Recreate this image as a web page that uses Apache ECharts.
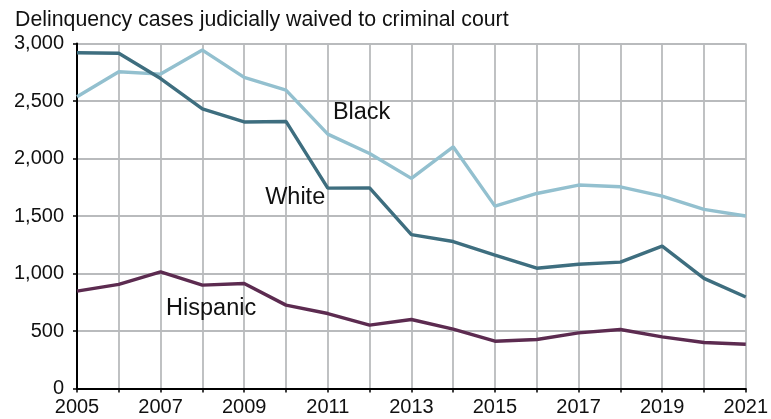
<!DOCTYPE html>
<html>
<head>
<meta charset="utf-8">
<script src="https://cdn.jsdelivr.net/npm/echarts@6/dist/echarts.min.js"></script>
<style>
html,body{margin:0;padding:0;background:#fff;}
#c{width:771px;height:419px;}
</style>
</head>
<body>
<div id="c"></div>
<script>
const years = [2005,2006,2007,2008,2009,2010,2011,2012,2013,2014,2015,2016,2017,2018,2019,2020,2021];
const white = [2920,2915,2695,2432,2318,2322,1742,1745,1338,1278,1160,1046,1080,1099,1238,958,796];
const black = [2537,2754,2734,2943,2705,2595,2212,2044,1827,2102,1586,1696,1769,1754,1673,1557,1500];
const hispanic = [847,905,1015,899,913,725,652,551,600,516,411,426,484,513,449,400,385];
const yTicks = [0,500,1000,1500,2000,2500,3000];
const titleText = 'Delinquency cases judicially waived to criminal court';
const labelBlack = [2011.81, 2398];
const labelWhite = [2010.22, 1662];
const labelHispanic = [2008.21, 696];

const FONT = '"Liberation Sans", Arial, Helvetica, sans-serif';
function pairs(vals){ return years.map((y,i)=>[y, vals[i]]); }
function lbl(name, coord){
  return {
    symbol: 'circle', symbolSize: 1, silent: true,
    itemStyle: {color: 'rgba(0,0,0,0)'},
    label: {show: true, position: 'inside', formatter: name, color: '#111', fontSize: 23.5, fontFamily: FONT},
    data: [{coord: coord}]
  };
}
const chart = echarts.init(document.getElementById('c'), null, {renderer: 'canvas'});
chart.setOption({
  animation: false,
  backgroundColor: '#fff',
  title: {
    text: titleText, left: 10, top: 5,
    textStyle: {fontFamily: FONT, fontSize: 21.3, fontWeight: 'normal', color: '#111'}
  },
  grid: {left: 77, right: 22, top: 43.5, bottom: 30.5, containLabel: false},
  xAxis: {
    type: 'value', min: 2005, max: 2021, interval: 1,
    axisLine: {show: true, onZero: false, lineStyle: {color: '#000', width: 2}},
    axisTick: {show: true, length: 4, lineStyle: {color: '#000', width: 1.5}},
    splitLine: {show: true, lineStyle: {color: '#b9bbbd', width: 1.8}},
    axisLabel: {
      margin: 9, color: '#111', fontSize: 20, fontFamily: FONT,
      formatter: v => (v % 2 === 1 ? String(v) : ''),
      showMinLabel: true, showMaxLabel: true
    }
  },
  yAxis: {
    type: 'value', min: yTicks[0], max: yTicks[yTicks.length-1], interval: 500,
    axisLine: {show: true, lineStyle: {color: '#000', width: 2}},
    axisTick: {show: true, length: 4, lineStyle: {color: '#000', width: 1.5}},
    splitLine: {show: true, lineStyle: {color: '#b9bbbd', width: 1.8}},
    axisLabel: {
      margin: 13, color: '#111', fontSize: 20, fontFamily: FONT,
      formatter: v => v.toLocaleString('en-US')
    }
  },
  series: [
    {name: 'Black', type: 'line', data: pairs(black), showSymbol: false, symbol: 'none',
     lineStyle: {color: '#93c0cf', width: 3.4}, markPoint: lbl('Black', labelBlack)},
    {name: 'White', type: 'line', data: pairs(white), showSymbol: false, symbol: 'none',
     lineStyle: {color: '#3e6e7f', width: 3.4}, markPoint: lbl('White', labelWhite)},
    {name: 'Hispanic', type: 'line', data: pairs(hispanic), showSymbol: false, symbol: 'none',
     lineStyle: {color: '#5c2b50', width: 3.4}, markPoint: lbl('Hispanic', labelHispanic)}
  ]
});
</script>
</body>
</html>
